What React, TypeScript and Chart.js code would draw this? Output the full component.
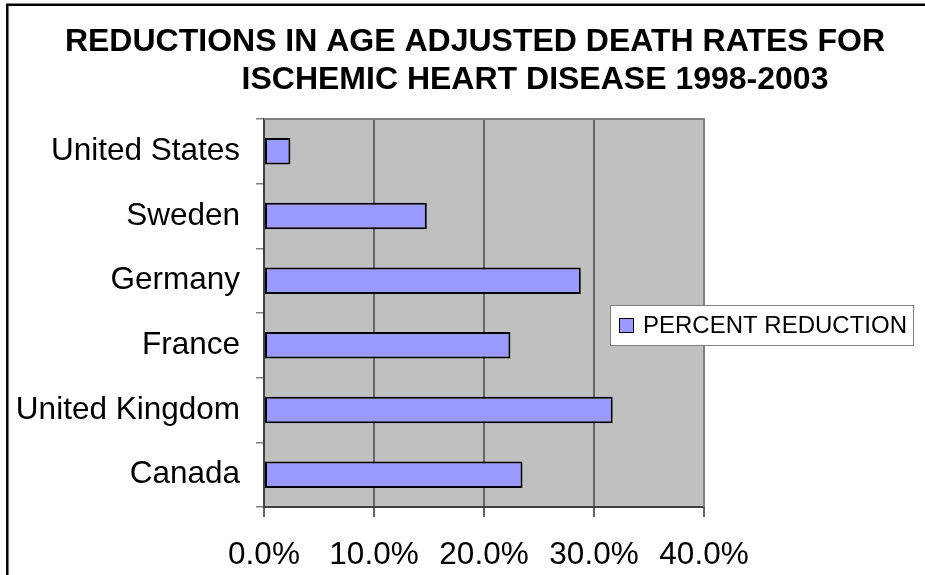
import React, { useEffect, useRef } from "react";
import { Chart, registerables } from "chart.js";

Chart.register(...registerables);

const categories = ["United States", "Sweden", "Germany", "France", "United Kingdom", "Canada"];
const percentReduction = [2.4, 14.8, 28.8, 22.4, 31.7, 23.5];
const xTickValues = [0, 10, 20, 30, 40];
const seriesLabel = "PERCENT REDUCTION";
const titleLines = ["REDUCTIONS IN AGE ADJUSTED DEATH RATES FOR", "ISCHEMIC HEART DISEASE 1998-2003"];

const FONT = '"Liberation Sans", Arial, Helvetica, sans-serif';
const BAR_FILL = "#9999FF";

const decorPlugin = {
  id: "decor",
  beforeDraw(chart: any) {
    const { ctx, chartArea: a } = chart;
    ctx.save();
    ctx.fillStyle = "#C0C0C0";
    ctx.fillRect(a.left, a.top, a.right - a.left, a.bottom - a.top);
    ctx.restore();
  },
  afterDraw(chart: any) {
    const { ctx, chartArea: a } = chart;
    ctx.save();
    // plot area top & right border
    ctx.strokeStyle = "#808080";
    ctx.lineWidth = 2;
    ctx.beginPath();
    ctx.moveTo(a.left, a.top);
    ctx.lineTo(a.right, a.top);
    ctx.lineTo(a.right, a.bottom);
    ctx.stroke();

    // legend
    const ds = chart.data.datasets[0];
    ctx.font = `24px ${FONT}`;
    const tw = ctx.measureText(ds.label).width;
    const lx = a.right - 94;
    const cy = (a.top + a.bottom) / 2 + 12;
    const bw = 9 + 14 + 10 + tw + 6;
    const bh = 40;
    const ly = cy - bh / 2;
    ctx.fillStyle = "#FFFFFF";
    ctx.fillRect(lx, ly, bw, bh);
    ctx.strokeStyle = "#808080";
    ctx.lineWidth = 1;
    ctx.strokeRect(lx + 0.5, ly + 0.5, bw, bh);
    ctx.fillStyle = ds.backgroundColor;
    ctx.fillRect(lx + 9, cy - 7, 14, 14);
    ctx.strokeStyle = "#000";
    ctx.lineWidth = 1;
    ctx.strokeRect(lx + 9.5, cy - 6.5, 14, 14);
    ctx.fillStyle = "#000";
    ctx.textAlign = "left";
    ctx.textBaseline = "alphabetic";
    ctx.fillText(ds.label, lx + 33, cy + 8);

    // title
    ctx.font = `bold 32px ${FONT}`;
    ctx.textAlign = "center";
    ctx.fillText(titleLines[0], 475, 51);
    ctx.fillText(titleLines[1], 535, 89);

    // outer frame (top and left)
    ctx.strokeStyle = "#000";
    ctx.lineWidth = 2.5;
    ctx.beginPath();
    ctx.moveTo(7.3, chart.height);
    ctx.lineTo(7.3, 4.8);
    ctx.lineTo(chart.width, 4.8);
    ctx.stroke();
    ctx.restore();
  },
};

export default function App() {
  const ref = useRef<HTMLCanvasElement | null>(null);

  useEffect(() => {
    document.body.style.margin = "0";
    document.body.style.overflow = "hidden";
    const canvas = ref.current;
    if (!canvas) return;
    const chart = new Chart(canvas, {
      type: "bar",
      data: {
        labels: categories,
        datasets: [
          {
            label: seriesLabel,
            data: percentReduction,
            backgroundColor: BAR_FILL,
            borderColor: "#000000",
            borderWidth: 2,
            borderSkipped: false,
            barPercentage: 0.41,
            categoryPercentage: 1,
          },
        ],
      },
      options: {
        indexAxis: "y",
        responsive: false,
        animation: false,
        devicePixelRatio: 1,
        layout: { padding: { top: 119, right: 221, left: 0, bottom: 0 } },
        plugins: {
          legend: { display: false },
          title: { display: false },
          tooltip: { enabled: false },
        },
        scales: {
          x: {
            type: "linear",
            min: 0,
            max: 40,
            afterBuildTicks(scale: any) {
              scale.ticks = xTickValues.map((v) => ({ value: v }));
            },
            afterFit(scale: any) {
              scale.height = 68;
            },
            ticks: {
              font: { family: FONT, size: 31.5 },
              color: "#000",
              padding: 19,
              maxRotation: 0,
              autoSkip: false,
              callback: (v: any) => `${Number(v).toFixed(1)}%`,
            },
            grid: {
              color: "#666666",
              lineWidth: 2,
              tickLength: 10,
            },
            border: { display: true, color: "#404040", width: 2 },
          },
          y: {
            type: "category",
            afterFit(scale: any) {
              scale.width = 264;
            },
            ticks: {
              font: { family: FONT, size: 31.5 },
              color: "#000",
              padding: 16,
              autoSkip: false,
            },
            grid: {
              drawOnChartArea: false,
              color: "#808080",
              lineWidth: 1.5,
              tickLength: 8,
            },
            border: { display: true, color: "#404040", width: 2 },
          },
        },
      },
      plugins: [decorPlugin],
    } as any);
    return () => chart.destroy();
  }, []);

  return <canvas ref={ref} width={925} height={575} style={{ display: "block" }} />;
}
